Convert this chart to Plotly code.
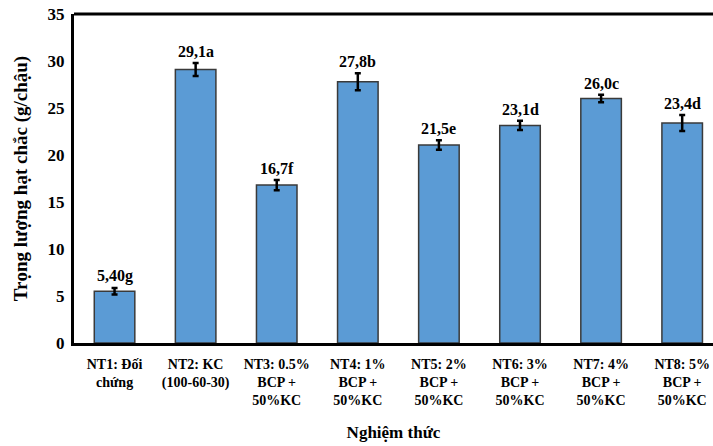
import plotly.graph_objects as go

categories = ["NT1: Đối<br>chứng", "NT2: KC<br>(100-60-30)", "NT3: 0.5%<br>BCP +<br>50%KC",
              "NT4: 1%<br>BCP +<br>50%KC", "NT5: 2%<br>BCP +<br>50%KC", "NT6: 3%<br>BCP +<br>50%KC",
              "NT7: 4%<br>BCP +<br>50%KC", "NT8: 5%<br>BCP +<br>50%KC"]
values = [5.5, 29.1, 16.8, 27.8, 21.06, 23.15, 26.0, 23.4]
errors = [0.35, 0.7, 0.55, 0.9, 0.5, 0.5, 0.4, 0.85]
labels = ["5,40g", "29,1a", "16,7f", "27,8b", "21,5e", "23,1d", "26,0c", "23,4d"]
y_ticks = [0, 5, 10, 15, 20, 25, 30, 35]

FONT = "Liberation Serif"
x = list(range(len(categories)))

fig = go.Figure()
fig.add_trace(go.Bar(
    x=x, y=values, width=0.5,
    marker=dict(color="#5B9BD5", line=dict(color="#3a3a3a", width=1.5)),
    error_y=dict(type="data", array=errors, visible=True, color="black", thickness=2.5, width=3),
))

for xi, v, e, t in zip(x, values, errors, labels):
    fig.add_annotation(x=xi, y=v + e, text="<b>%s</b>" % t, showarrow=False,
                       yanchor="bottom", yshift=1,
                       font=dict(family=FONT, size=16, color="black"))

fig.add_shape(type="line", xref="paper", yref="paper", x0=0, x1=1, y0=1, y1=1,
              line=dict(color="black", width=3))

fig.update_layout(
    width=713, height=446,
    margin=dict(l=74, r=0, t=14, b=103),
    plot_bgcolor="white", paper_bgcolor="white",
    showlegend=False,
    font=dict(family=FONT, color="black"),
)
fig.update_xaxes(
    tickmode="array", tickvals=x, ticktext=["<b>%s</b>" % c for c in categories],
    tickfont=dict(family=FONT, size=14, color="black"), tickangle=0,
    range=[-0.5, 7.38], showgrid=False, zeroline=False, automargin=False,
    showline=True, linecolor="black", linewidth=3, ticklabeloverflow="allow",
    ticks="outside", ticklen=6, tickcolor="rgba(0,0,0,0)",
    title=dict(text="<b>Nghiệm thức</b>", font=dict(family=FONT, size=17, color="black"), standoff=19),
)
fig.update_yaxes(
    tickmode="array", tickvals=y_ticks, ticktext=["<b>%d</b>" % t for t in y_ticks],
    tickfont=dict(family=FONT, size=17, color="black"),
    range=[0, 35], showgrid=False, zeroline=False, automargin=False,
    showline=True, linecolor="black", linewidth=3, ticklabeloverflow="allow",
    ticks="outside", ticklen=3, tickcolor="rgba(0,0,0,0)",
    title=dict(text="<b>Trọng lượng hạt chắc (g/chậu)</b>", font=dict(family=FONT, size=19, color="black"), standoff=15),
)

fig.write_html("out.html", config={"displayModeBar": False},
               post_script="document.body.style.margin='0';")
